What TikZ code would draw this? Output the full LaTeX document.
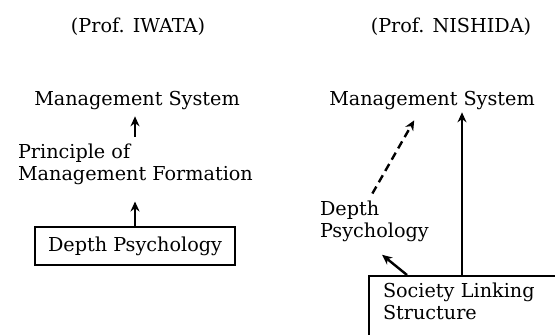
\documentclass[tikz,border=0pt]{standalone}
\usepackage{fontspec}
\setmainfont{DejaVu Serif}
\usetikzlibrary{arrows.meta}

\tikzset{
	lbl/.style={inner sep=3.33pt, font=\fontsize{9.6}{11}\selectfont},
	boxed/.style={lbl, draw, line width=1pt},
	arr/.style={line width=1.2pt, -{Stealth[length=5pt,width=4.5pt]}}
}

\begin{document}
\begin{tikzpicture}[x=0.5pt, y=-0.5pt]
		\useasboundingbox (0,0) rectangle (555,334);

		% Titles
		\node[lbl] (iwata) at (138,27) {(Prof. IWATA)};
		\node[lbl] (nishida) at (451,27) {(Prof. NISHIDA)};

		% Left side
		\node[lbl] (lms) at (137,100) {Management System};
		\node[lbl, anchor=west, align=left] (principle) at (11,164) {Principle of\\Management Formation};
		\node[boxed, minimum width=100pt, minimum height=19pt] (dpbox) at (135,246) {Depth Psychology};

		\draw[arr] (principle.north -| dpbox.north) -- (lms.south -| dpbox.north);
		\draw[arr, shorten >=5pt] (dpbox.north) -- (principle.south -| dpbox.north);

		% Right side
		\node[lbl] (rms) at (432,100) {Management System};
		\node[lbl, anchor=west, align=left] (dp2) at (313,221) {Depth\\Psychology};
		\node[boxed, anchor=north west, align=left, text width=120pt, inner xsep=7pt, text depth=30pt] (slbox) at (368,275) {Society Linking\\Structure};

		\draw[arr, shorten >=-2pt] ([xshift=47pt]slbox.north west) -- ([xshift=47pt]slbox.north west |- rms.south);
		\draw[arr, dash pattern=on 4pt off 2.5pt] ([xshift=-1pt]dp2.north) -- ([xshift=46pt,yshift=-2pt]rms.south west);
		\draw[arr, shorten >=5pt] ([xshift=19.5pt]slbox.north west) -- (dp2.south);
\end{tikzpicture}
\end{document}
